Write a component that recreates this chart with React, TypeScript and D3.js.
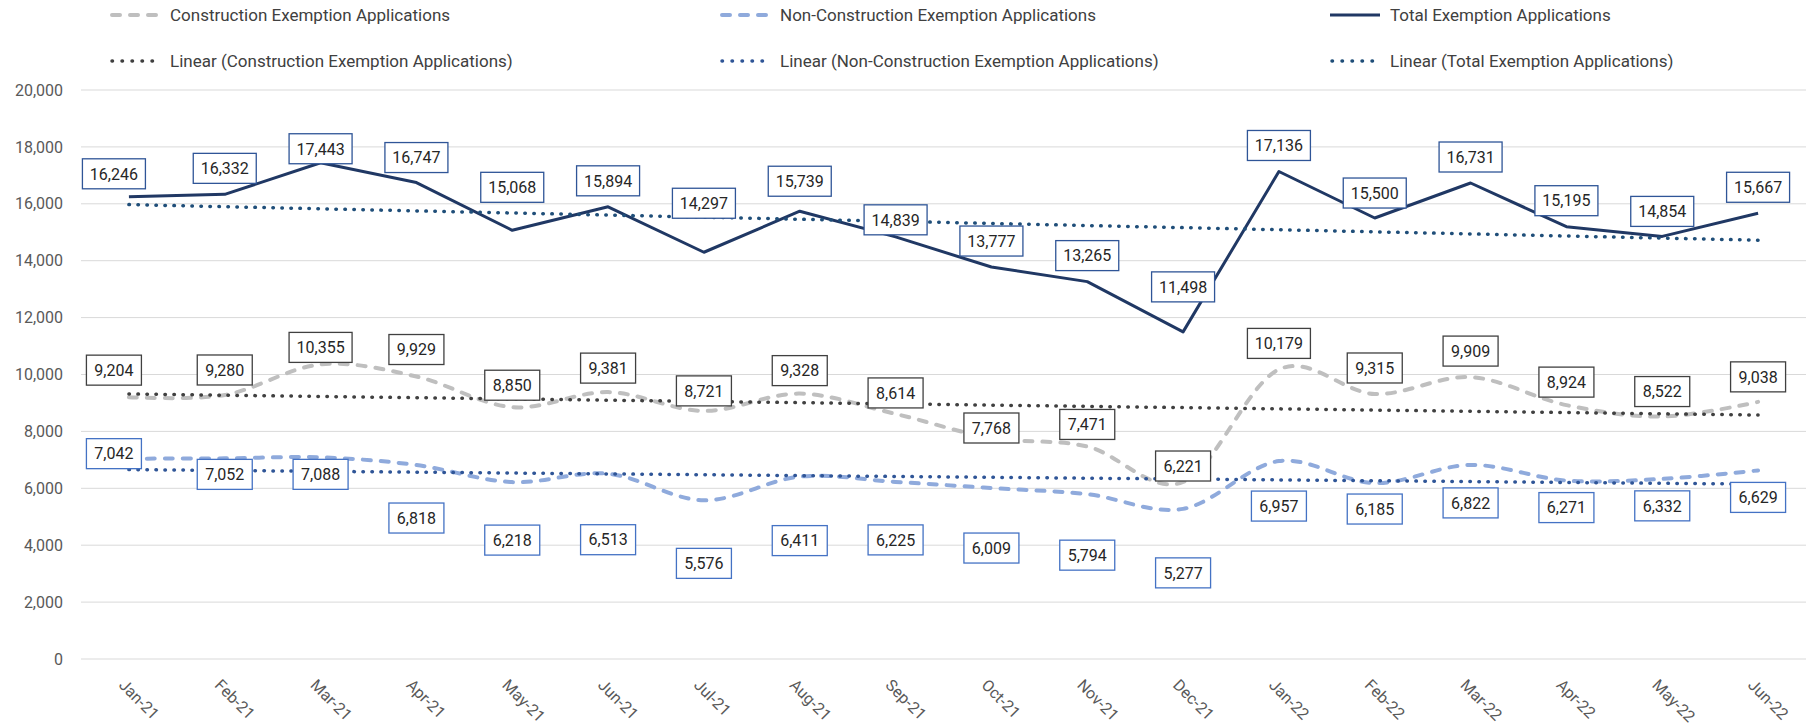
import React, { useRef, useEffect } from "react";
import { select, scaleBand, scaleLinear, line, curveCardinal, curveLinear, format } from "d3";

const months = [
  "Jan-21", "Feb-21", "Mar-21", "Apr-21", "May-21", "Jun-21",
  "Jul-21", "Aug-21", "Sep-21", "Oct-21", "Nov-21", "Dec-21",
  "Jan-22", "Feb-22", "Mar-22", "Apr-22", "May-22", "Jun-22",
];
const construction = [9204, 9280, 10355, 9929, 8850, 9381, 8721, 9328, 8614, 7768, 7471, 6221, 10179, 9315, 9909, 8924, 8522, 9038];
const nonConstruction = [7042, 7052, 7088, 6818, 6218, 6513, 5576, 6411, 6225, 6009, 5794, 5277, 6957, 6185, 6822, 6271, 6332, 6629];
const total = [16246, 16332, 17443, 16747, 15068, 15894, 14297, 15739, 14839, 13777, 13265, 11498, 17136, 15500, 16731, 15195, 14854, 15667];
const yTicks = [0, 2000, 4000, 6000, 8000, 10000, 12000, 14000, 16000, 18000, 20000];

// where each data label box sits relative to its point (px, box centre)
const totalLabelDy = [-23, -26, -14, -25, -43, -26, -49, -30, -17, -26, -26, -45, -26, -25, -26, -26, -25, -26];
const constructionLabelDy = [-27, -25, -17, -27, -22, -24, -20, -23, -21, -10, -22, -16, -26, -26, -26, -23, -25, -25];
const nonConstructionLabelDy = [-5, 16, 17, 53, 58, 66, 63, 64, 58, 60, 61, 64, 45, 26, 38, 27, 27, 27];
const firstLabelDx = -15;

const W = 1814;
const H = 725;
const plotLeft = 81;
const plotRight = 1806;
const plotTop = 90;
const plotBottom = 659;
const font = "Roboto, 'Liberation Sans', sans-serif";

// least squares fit against the month index
const fit = (vals: number[]) => {
  const n = vals.length;
  const mx = (n - 1) / 2;
  const my = vals.reduce((a, b) => a + b, 0) / n;
  let sxy = 0;
  let sxx = 0;
  vals.forEach((v, i) => {
    sxy += (i - mx) * (v - my);
    sxx += (i - mx) * (i - mx);
  });
  const slope = sxy / sxx;
  return (i: number) => my + slope * (i - mx);
};

const App: React.FC = () => {
  const svgRef = useRef(null);

  useEffect(() => {
    const svg = select(svgRef.current);
    svg.selectAll("*").remove();

    const x = scaleBand().domain(months).range([plotLeft, plotRight]);
    const cx = (i: number) => x(months[i])! + x.bandwidth() / 2;
    const y = scaleLinear().domain([0, 20000]).range([plotBottom, plotTop]);
    const fmt = format(",");

    // gridlines
    svg
      .append("g")
      .selectAll("line")
      .data(yTicks)
      .join("line")
      .attr("x1", plotLeft)
      .attr("x2", plotRight)
      .attr("y1", (d) => y(d))
      .attr("y2", (d) => y(d))
      .attr("stroke", "#d9d9d9")
      .attr("stroke-width", 1);

    svg
      .append("g")
      .selectAll("text")
      .data(yTicks)
      .join("text")
      .attr("x", 63)
      .attr("y", (d) => y(d))
      .attr("dy", "0.35em")
      .attr("text-anchor", "end")
      .attr("font-family", font)
      .attr("font-size", 16)
      .attr("fill", "#595959")
      .text((d) => fmt(d));

    svg
      .append("g")
      .selectAll("text")
      .data(months)
      .join("text")
      .attr("transform", (d, i) => `translate(${cx(i) - 11},686) rotate(45)`)
      .attr("font-family", font)
      .attr("font-size", 16)
      .attr("fill", "#595959")
      .text((d) => d);

    const series = [
      { name: "Construction Exemption Applications", values: construction, color: "#bfbfbf", width: 4, dash: "8 10", cap: "round", curve: curveCardinal, box: "#404040", dy: constructionLabelDy },
      { name: "Non-Construction Exemption Applications", values: nonConstruction, color: "#8faadc", width: 4, dash: "8 10", cap: "round", curve: curveCardinal, box: "#4472c4", dy: nonConstructionLabelDy },
      { name: "Total Exemption Applications", values: total, color: "#203864", width: 3, dash: null, cap: "butt", curve: curveLinear, box: "#2f5597", dy: totalLabelDy },
    ];
    const trends = [
      { name: "Linear (Construction Exemption Applications)", values: construction, color: "#404040" },
      { name: "Linear (Non-Construction Exemption Applications)", values: nonConstruction, color: "#2f5597" },
      { name: "Linear (Total Exemption Applications)", values: total, color: "#1f4e79" },
    ];

    series.forEach((s) => {
      const l = line<number>()
        .x((d, i) => cx(i))
        .y((d) => y(d))
        .curve(s.curve);
      svg
        .append("path")
        .attr("d", l(s.values))
        .attr("fill", "none")
        .attr("stroke", s.color)
        .attr("stroke-width", s.width)
        .attr("stroke-linecap", s.cap)
        .attr("stroke-linejoin", "round")
        .attr("stroke-dasharray", s.dash);
    });

    trends.forEach((t) => {
      const f = fit(t.values);
      const n = t.values.length - 1;
      svg
        .append("line")
        .attr("x1", cx(0))
        .attr("x2", cx(n))
        .attr("y1", y(f(0)))
        .attr("y2", y(f(n)))
        .attr("stroke", t.color)
        .attr("stroke-width", 3.5)
        .attr("stroke-linecap", "round")
        .attr("stroke-dasharray", "0.5 8.5");
    });

    // data labels
    series.forEach((s) => {
      const g = svg
        .append("g")
        .selectAll("g")
        .data(s.values)
        .join("g")
        .attr(
          "transform",
          (d, i) => `translate(${cx(i) + (i === 0 ? firstLabelDx : 0)},${y(d) + s.dy[i]})`
        );
      g.append("rect")
        .attr("x", (d) => -(fmt(d).length * 8 + 15) / 2)
        .attr("y", -15)
        .attr("width", (d) => fmt(d).length * 8 + 15)
        .attr("height", 30)
        .attr("fill", "#fff")
        .attr("stroke", s.box)
        .attr("stroke-width", 1.3);
      g.append("text")
        .attr("text-anchor", "middle")
        .attr("dy", "0.36em")
        .attr("font-family", font)
        .attr("font-size", 16)
        .attr("fill", "#262626")
        .text((d) => fmt(d));
    });

    // legend
    const legendX = [110, 720, 1330];
    const legendRowY = [15, 61];
    const drawLegend = (
      col: number,
      row: number,
      name: string,
      color: string,
      width: number,
      dash: string | null,
      cap: string
    ) => {
      const lx = legendX[col];
      const ly = legendRowY[row];
      svg
        .append("line")
        .attr("x1", lx + (cap === "round" ? 2 : 0))
        .attr("x2", lx + 50)
        .attr("y1", ly)
        .attr("y2", ly)
        .attr("stroke", color)
        .attr("stroke-width", width)
        .attr("stroke-linecap", cap)
        .attr("stroke-dasharray", dash);
      svg
        .append("text")
        .attr("x", lx + 60)
        .attr("y", ly)
        .attr("dy", "0.35em")
        .attr("font-family", font)
        .attr("font-size", 17)
        .attr("fill", "#404040")
        .text(name);
    };
    series.forEach((s, i) => drawLegend(i, 0, s.name, s.color, s.width, s.dash, s.cap));
    trends.forEach((t, i) => drawLegend(i, 1, t.name, t.color, 3.5, "0.5 9.5", "round"));
  }, []);

  return (
    <svg
      ref={svgRef}
      width={W}
      height={H}
      style={{ position: "absolute", left: 0, top: 0, background: "#fff" }}
    ></svg>
  );
};

export default App;
